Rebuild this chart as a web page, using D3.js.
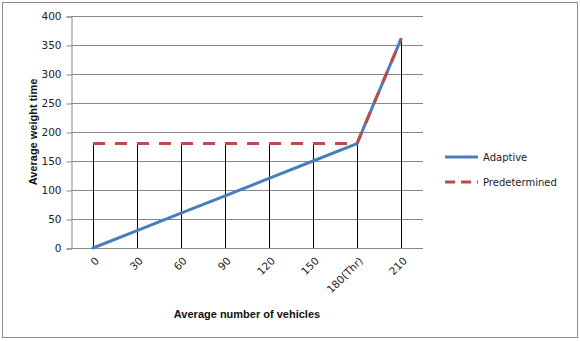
<!DOCTYPE html>
<html>
<head>
<meta charset="utf-8">
<script src="https://cdn.jsdelivr.net/npm/d3@7"></script>
<style>
  body { margin: 0; background: #fff; }
</style>
</head>
<body>
<div id="chart"></div>
<script>
// chart values
const categories = ["0", "30", "60", "90", "120", "150", "180(Thr)", "210"];
const adaptive = [0, 30, 60, 90, 120, 150, 180, 360];
const predetermined = [180, 180, 180, 180, 180, 180, 180, 360];
const yTicks = [0, 50, 100, 150, 200, 250, 300, 350, 400];

const width = 580;
const height = 341;
const plot = { left: 71, right: 423, top: 16, bottom: 248 };

const svg = d3.select("#chart")
    .append("svg")
    .attr("width", width)
    .attr("height", height);

// outer border
svg.append("rect")
    .attr("x", 2.5).attr("y", 2.5)
    .attr("width", 575).attr("height", 335)
    .attr("fill", "#fff")
    .attr("stroke", "#8c8c8c")
    .attr("stroke-width", 1);

const x = d3.scaleBand().domain(categories).range([plot.left, plot.right]);
const y = d3.scaleLinear().domain([0, 400]).range([plot.bottom, plot.top]);
const cx = d => x(d) + x.bandwidth() / 2;

// gridlines
svg.append("g")
    .selectAll("line")
    .data(yTicks.filter(d => d > 0))
    .enter().append("line")
    .attr("x1", plot.left).attr("x2", plot.right)
    .attr("y1", d => Math.round(y(d)) + 0.5).attr("y2", d => Math.round(y(d)) + 0.5)
    .attr("stroke", "#888")
    .attr("stroke-width", 1);

// y axis
const yAxis = svg.append("g")
    .attr("transform", `translate(${plot.left + 0.5},0.5)`)
    .call(d3.axisLeft(y).tickValues(yTicks).tickSize(5).tickPadding(5));
yAxis.select(".domain").attr("stroke", "#888");
yAxis.selectAll(".tick line").attr("stroke", "#888");
yAxis.selectAll("text")
    .attr("font-family", "DejaVu Sans")
    .attr("font-size", "10.5px")
    .attr("fill", "#222");

// x axis line
svg.append("line")
    .attr("x1", plot.left).attr("x2", plot.right)
    .attr("y1", plot.bottom + 0.5).attr("y2", plot.bottom + 0.5)
    .attr("stroke", "#888");

// x tick labels, rotated
svg.append("g")
    .selectAll("text")
    .data(categories)
    .enter().append("text")
    .attr("transform", d => `translate(${cx(d) + 4},${plot.bottom + 11}) rotate(-45)`)
    .attr("text-anchor", "end")
    .attr("dy", "0.35em")
    .attr("font-family", "DejaVu Sans")
    .attr("font-size", "10.5px")
    .attr("fill", "#222")
    .text(d => d);

// drop lines
svg.append("g")
    .selectAll("line")
    .data(categories)
    .enter().append("line")
    .attr("x1", d => Math.round(cx(d)) + 0.5).attr("x2", d => Math.round(cx(d)) + 0.5)
    .attr("y1", (d, i) => y(Math.max(adaptive[i], predetermined[i])))
    .attr("y2", plot.bottom)
    .attr("stroke", "#000")
    .attr("stroke-width", 1);

const line = d3.line()
    .x((d, i) => cx(categories[i]))
    .y(d => y(d));

svg.append("path")
    .datum(adaptive)
    .attr("d", line)
    .attr("fill", "none")
    .attr("stroke", "#4a7ebb")
    .attr("stroke-width", 3)
    .attr("stroke-linejoin", "round")
    .attr("stroke-linecap", "round");

svg.append("path")
    .datum(predetermined)
    .attr("d", line)
    .attr("fill", "none")
    .attr("stroke", "#be4b48")
    .attr("stroke-width", 3)
    .attr("stroke-dasharray", "12,10")
    .attr("stroke-linejoin", "round");

// axis titles
svg.append("text")
    .attr("transform", "translate(33,132) rotate(-90)")
    .attr("text-anchor", "middle")
    .attr("dy", "0.35em")
    .attr("font-family", "Liberation Sans")
    .attr("font-weight", "bold")
    .attr("font-size", "11px")
    .attr("fill", "#111")
    .text("Average weight time");

svg.append("text")
    .attr("x", 247).attr("y", 314)
    .attr("text-anchor", "middle")
    .attr("dy", "0.35em")
    .attr("font-family", "Liberation Sans")
    .attr("font-weight", "bold")
    .attr("font-size", "11px")
    .attr("fill", "#111")
    .text("Average number of vehicles");

// legend
const legendItems = [
    { name: "Adaptive", color: "#4a7ebb", dash: null },
    { name: "Predetermined", color: "#be4b48", dash: "10,6" }
];
const legend = svg.append("g")
    .selectAll("g")
    .data(legendItems)
    .enter().append("g")
    .attr("transform", (d, i) => `translate(445,${157 + i * 25})`);
legend.append("line")
    .attr("x1", 0).attr("x2", 33)
    .attr("stroke", d => d.color)
    .attr("stroke-width", 3)
    .attr("stroke-dasharray", d => d.dash);
legend.append("text")
    .attr("x", 38)
    .attr("dy", "0.35em")
    .attr("font-family", "DejaVu Sans")
    .attr("font-size", "10px")
    .attr("fill", "#222")
    .text(d => d.name);
</script>
</body>
</html>
